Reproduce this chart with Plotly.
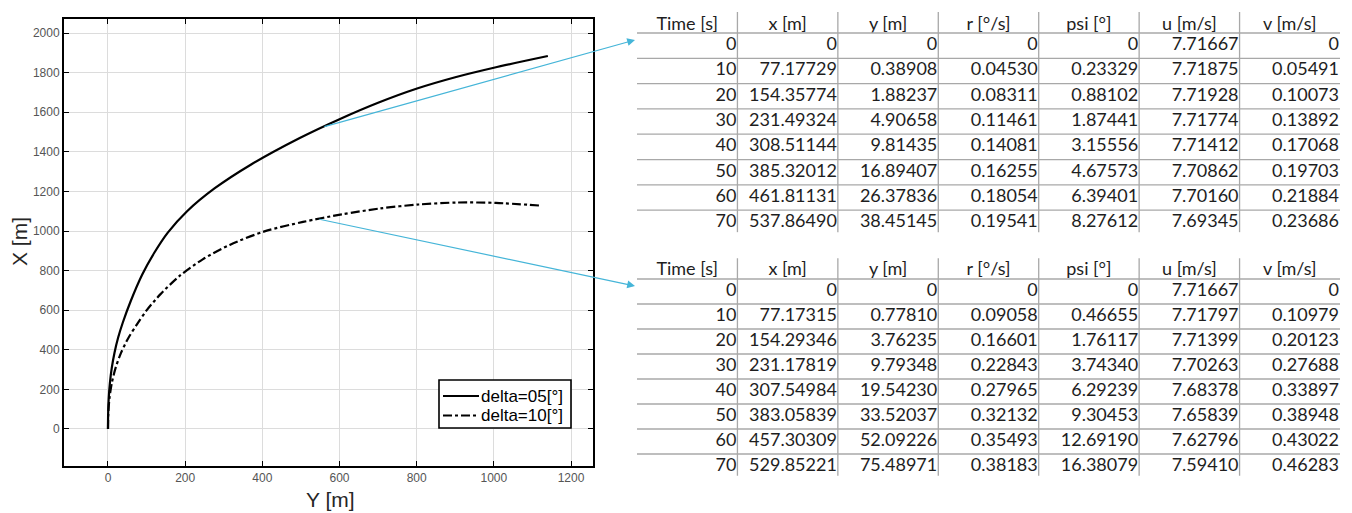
import plotly.graph_objects as go

# ---------------- data ----------------
time_s = [0, 10, 20, 30, 40, 50, 60, 70]

# delta = 05 [deg]
d05_x = [0, 77.17729, 154.35774, 231.49324, 308.51144, 385.32012, 461.81131, 537.86490]
d05_y = [0, 0.38908, 1.88237, 4.90658, 9.81435, 16.89407, 26.37836, 38.45145]
d05_r = [0, 0.04530, 0.08311, 0.11461, 0.14081, 0.16255, 0.18054, 0.19541]
d05_psi = [0, 0.23329, 0.88102, 1.87441, 3.15556, 4.67573, 6.39401, 8.27612]
d05_u = [7.71667, 7.71875, 7.71928, 7.71774, 7.71412, 7.70862, 7.70160, 7.69345]
d05_v = [0, 0.05491, 0.10073, 0.13892, 0.17068, 0.19703, 0.21884, 0.23686]

# delta = 10 [deg]
d10_x = [0, 77.17315, 154.29346, 231.17819, 307.54984, 383.05839, 457.30309, 529.85221]
d10_y = [0, 0.77810, 3.76235, 9.79348, 19.54230, 33.52037, 52.09226, 75.48971]
d10_r = [0, 0.09058, 0.16601, 0.22843, 0.27965, 0.32132, 0.35493, 0.38183]
d10_psi = [0, 0.46655, 1.76117, 3.74340, 6.29239, 9.30453, 12.69190, 16.38079]
d10_u = [7.71667, 7.71797, 7.71399, 7.70263, 7.68378, 7.65839, 7.62796, 7.59410]
d10_v = [0, 0.10979, 0.20123, 0.27688, 0.33897, 0.38948, 0.43022, 0.46283]

# rest of the trajectories (after 70 s)
ext05_y = [58.5, 88.5, 120, 155, 205, 276, 370, 497, 600, 700, 801, 900, 1000, 1140]
ext05_x = [644, 779, 890, 992, 1100, 1215, 1335, 1470, 1565, 1648, 1720, 1777, 1825, 1884]
ext10_y = [100.5, 135.5, 185.5, 245.5, 315.5, 405.5, 505.5, 605.5, 705.5, 805.5, 905.5,
           1005.5, 1124]
ext10_x = [600, 680, 773, 857, 930, 998, 1046, 1084, 1114, 1134, 1144, 1142, 1128]

headers = ["Time [s]", "x [m]", "y [m]", "r [°/s]", "psi [°]", "u [m/s]", "v [m/s]"]
legend_names = ["delta=05[°]", "delta=10[°]"]
x_ticks = [0, 200, 400, 600, 800, 1000, 1200]
y_ticks = [0, 200, 400, 600, 800, 1000, 1200, 1400, 1600, 1800, 2000]

# ---------------- layout constants ----------------
W, H = 1352, 513
PX_L, PX_R, PX_T, PX_B = 64, 593, 19, 466
XR = [-114, 1257]
YR = [-187, 2071]
CYAN = "#45b5d8"
TXT_FONT = dict(family="Lato", size=18, color="#1e1e1e")
GRID_LINE = "#a8a8a8"


def px_to_data_x(px):
    return XR[0] + (px - PX_L) * (XR[1] - XR[0]) / (PX_R - PX_L)


def px_to_data_y(py):
    return YR[1] - (py - PX_T) * (YR[1] - YR[0]) / (PX_B - PX_T)


fig = go.Figure()

# trajectories: horizontal axis = Y [m], vertical axis = X [m]
styles = [dict(color="black", width=2.2, shape="spline", smoothing=0.8),
          dict(color="black", width=2.2, dash="dashdot", shape="spline", smoothing=0.8)]
fig.add_trace(go.Scatter(x=d05_y + ext05_y, y=d05_x + ext05_x, mode="lines",
                         name=legend_names[0], line=styles[0], showlegend=False))
fig.add_trace(go.Scatter(x=d10_y + ext10_y, y=d10_x + ext10_x, mode="lines",
                         name=legend_names[1], line=styles[1], showlegend=False))


def fmt(v):
    return "0" if v == 0 else f"{v:.5f}"


def add_table(cols, yaxis, header_row):
    fig.add_trace(go.Scatter(
        x=[c + 0.5 for c in range(len(headers))], y=[header_row] * len(headers),
        text=headers, mode="text", textposition="middle center",
        textfont=TXT_FONT, xaxis="x2", yaxis=yaxis, showlegend=False,
        hoverinfo="skip", cliponaxis=False))
    xs, ys, tx = [], [], []
    for c, col in enumerate(cols):
        for j, v in enumerate(col):
            xs.append(c + 0.99)
            ys.append(j + 1.5)
            tx.append(str(v) if c == 0 else fmt(v))
    fig.add_trace(go.Scatter(
        x=xs, y=ys, text=tx, mode="text", textposition="middle left",
        textfont=TXT_FONT, xaxis="x2", yaxis=yaxis, showlegend=False,
        hoverinfo="skip", cliponaxis=False))
    n = len(cols[0])
    for k in range(1, n + 1):
        fig.add_shape(type="line", xref="x2", yref=yaxis, x0=0, x1=len(cols), y0=k, y1=k,
                      line=dict(color=GRID_LINE, width=1.3))
    for c in range(1, len(cols)):
        fig.add_shape(type="line", xref="x2", yref=yaxis, x0=c, x1=c, y0=0.17, y1=n + 0.87,
                      line=dict(color=GRID_LINE, width=1.3))


add_table([time_s, d05_x, d05_y, d05_r, d05_psi, d05_u, d05_v], "y2", 0.72)
add_table([time_s, d10_x, d10_y, d10_r, d10_psi, d10_u, d10_v], "y3", 0.64)

# arrows from the curves to the tables
fig.add_annotation(x=px_to_data_x(635), y=px_to_data_y(40), ax=557, ay=1525,
                   xref="x", yref="y", axref="x", ayref="y", text="", showarrow=True,
                   arrowhead=2, arrowsize=1.3, arrowwidth=1.2, arrowcolor=CYAN, standoff=0)
fig.add_annotation(x=px_to_data_x(635), y=px_to_data_y(286), ax=544, ay=1061,
                   xref="x", yref="y", axref="x", ayref="y", text="", showarrow=True,
                   arrowhead=2, arrowsize=1.3, arrowwidth=1.2, arrowcolor=CYAN, standoff=0)

# axis titles
fig.add_annotation(x=330 / W, y=1 - 499 / H, xref="paper", yref="paper", text="Y [m]",
                   xanchor="center", yanchor="middle", showarrow=False, borderpad=0,
                   font=dict(family="Liberation Sans", size=21, color="#262626"))
fig.add_annotation(x=19 / W, y=1 - 242 / H, xref="paper", yref="paper", text="X [m]",
                   xanchor="center", yanchor="middle", textangle=-90, showarrow=False,
                   font=dict(family="Liberation Sans", size=21, color="#262626"))

# legend box (drawn in paper space)
LG_L, LG_R, LG_T, LG_B = 439, 571, 380, 428
fig.add_shape(type="rect", xref="paper", yref="paper", x0=LG_L / W, x1=LG_R / W,
              y0=1 - LG_B / H, y1=1 - LG_T / H, line=dict(color="black", width=1.6),
              fillcolor="white", layer="above")
for i, (name, st) in enumerate(zip(legend_names, styles)):
    yc = 396 + 19.5 * i
    fig.add_shape(type="line", xref="paper", yref="paper", x0=443 / W, x1=479 / W,
                  y0=1 - yc / H, y1=1 - yc / H, layer="above",
                  line=dict(color="black", width=2.2, dash=st.get("dash", "solid")))
    fig.add_annotation(x=480 / W, y=1 - yc / H, xref="paper", yref="paper", text=name,
                       xanchor="left", yanchor="middle", showarrow=False, borderpad=0,
                       font=dict(family="Liberation Sans", size=17, color="black"))

axis_common = dict(showline=True, linecolor="black", linewidth=2, mirror="ticks",
                   ticks="inside", ticklen=5, tickwidth=1.2, tickcolor="black",
                   showgrid=True, gridcolor="#dcdcdc", gridwidth=1, zeroline=False,
                   tickfont=dict(family="Liberation Sans", size=12, color="#555555"))

fig.update_layout(
    width=W, height=H, margin=dict(l=0, r=0, t=0, b=0),
    paper_bgcolor="white", plot_bgcolor="white",
    font=dict(family="Liberation Sans"),
    xaxis=dict(domain=[PX_L / W, PX_R / W], range=XR, tickvals=x_ticks, anchor="y",
               **axis_common),
    yaxis=dict(domain=[1 - PX_B / H, 1 - PX_T / H], range=YR, tickvals=y_ticks, anchor="x",
               **axis_common),
    xaxis2=dict(domain=[637 / W, 1340 / W], range=[0, 7], visible=False, anchor="y2"),
    yaxis2=dict(domain=[1 - 240 / H, 1], range=[9.18, -0.304], visible=False, anchor="x2"),
    yaxis3=dict(domain=[1 - 490 / H, 1 - 246 / H], range=[9.44, -0.32], visible=False,
                anchor="x2"),
    showlegend=False,
)

fig.write_html("out.html")
